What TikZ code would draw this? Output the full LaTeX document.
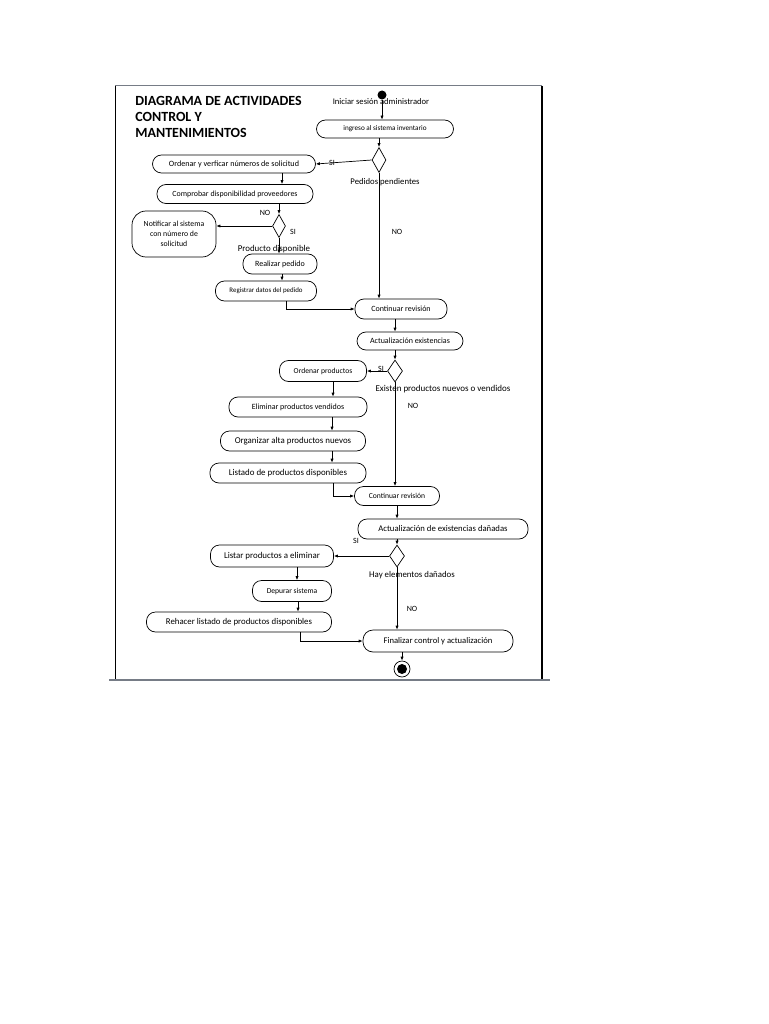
\documentclass[tikz,border=0pt]{standalone}
\usepackage{fontspec}
\setmainfont{Carlito}
\usetikzlibrary{shapes.geometric, arrows.meta}
\definecolor{rulegray}{RGB}{118,124,134}

\begin{document}
\begin{tikzpicture}[
    x=1pt, y=-1pt, line width=0.7pt,
    act/.style={draw,rounded corners=9pt,minimum height=19pt,inner sep=1pt,font=\fontsize{8}{9}\selectfont},
    decision/.style={draw,diamond,minimum width=15pt,minimum height=23pt,inner sep=0pt},
    guard/.style={inner sep=0pt,font=\fontsize{8}{9}\selectfont},
    heading/.style={anchor=base west,inner sep=0pt,font=\fontsize{14}{16}\selectfont\bfseries},
    flow/.style={-{Latex[length=4pt,width=3.2pt]}}
  ]
    \fill[white] (0,0) rectangle (768,1024);
    \useasboundingbox (0,0) rectangle (768,1024);

    % frame
    \draw[line width=1pt] (115,86) -- (115,680);
    \draw[rulegray,line width=1pt] (115,86) -- (542,86);
    \draw[line width=1.2pt] (542,86) -- (542,680);
    \draw[rulegray,line width=2pt] (109,680) -- (550,680);

    \node[heading] (title1) at (135,106) {DIAGRAMA DE ACTIVIDADES};
    \node[heading] (title2) at (135,122) {CONTROL Y};
    \node[heading] (title3) at (135,138) {MANTENIMIENTOS};

    % first block: pedidos
    \node[circle,fill=black,minimum size=9pt,inner sep=0pt] (ini) at (382,95) {};
    \node[guard,font=\fontsize{8.6}{10}\selectfont] (lblini) at (381,102) {Iniciar sesión administrador};
    \node[act,minimum width=137pt,minimum height=18pt,font=\fontsize{7.2}{8}\selectfont] (ingreso) at (385,129) {ingreso al sistema inventario};
    \node[decision,minimum width=14pt,minimum height=25pt] (d1) at (379,160) {};
    \node[guard] (si1) at (332,163) {SI};
    \node[guard,font=\fontsize{8.7}{10}\selectfont] (lblpend) at (385,182) {Pedidos pendientes};
    \node[guard] (no1) at (397,232) {NO};
    \node[act,minimum width=163pt,minimum height=18pt,font=\fontsize{8.1}{9}\selectfont] (ordenar) at (234,164) {Ordenar y verficar números de solicitud};
    \node[act,minimum width=156pt,font=\fontsize{7.9}{9}\selectfont] (comprobar) at (235,194) {Comprobar disponibilidad proveedores};
    \node[decision,minimum width=13pt,minimum height=23pt] (d2) at (279,226) {};
    \node[guard] (no2) at (265,213) {NO};
    \node[guard] (si2) at (293,232) {SI};
    \node[draw,rounded corners=14pt,minimum width=84pt,minimum height=46pt,align=center,inner sep=1pt,font=\fontsize{7.8}{10}\selectfont] (notificar) at (174,234) {Notificar al sistema\\con número de\\solicitud};
    \node[guard,font=\fontsize{8.9}{10}\selectfont] (lblprod) at (274,249) {Producto disponible};
    \node[act,minimum width=74pt,minimum height=20pt] (realizar) at (280,264) {Realizar pedido};
    \node[act,minimum width=101pt,minimum height=20pt,font=\fontsize{6.9}{8}\selectfont] (registrar) at (266,291) {Registrar datos del pedido};
    \node[act,minimum width=92pt,minimum height=20pt] (continuarA) at (401,309) {Continuar revisión};

    \draw[flow] (ini) -- (ini |- ingreso.north);
    \draw[flow] (d1.north |- ingreso.south) -- (d1.north);
    \draw[flow] (d1.west) -- (ordenar.east);
    \draw[flow] ([xshift=48pt]ordenar.south) -- ([xshift=47pt]comprobar.north);
    \draw[flow] (d2.north |- comprobar.south) -- (d2.north);
    \draw[flow] (d2.west) -- (d2.west -| notificar.east);
    \draw[flow] (d2.south) -- (d2.south |- realizar.north);
    \draw[flow] ([xshift=2pt]realizar.south) -- ([xshift=16pt]registrar.north);
    \draw[flow] ([xshift=20pt]registrar.south) |- (continuarA.west);
    \draw[flow] (d1.south) -- (d1.south |- continuarA.north);

    % second block: existencias
    \node[act,minimum width=106pt,minimum height=18pt] (actualizar) at (410,341) {Actualización existencias};
    \node[decision,minimum height=22pt] (d3) at (395,371) {};
    \node[guard] (si3) at (381,369) {SI};
    \node[guard,font=\fontsize{9}{10}\selectfont] (lblexist) at (443,389) {Existen productos nuevos o vendidos};
    \node[guard] (no3) at (413,406) {NO};
    \node[act,minimum width=87pt,minimum height=21pt,font=\fontsize{7.6}{9}\selectfont] (ordprod) at (323,371) {Ordenar productos};
    \node[act,minimum width=138pt,minimum height=20pt] (eliminar) at (298,407) {Eliminar productos vendidos};
    \node[act,minimum width=145pt,minimum height=20pt,font=\fontsize{8.9}{10}\selectfont] (organizar) at (293,441) {Organizar alta productos nuevos};
    \node[act,minimum width=156pt,minimum height=20pt,font=\fontsize{8.9}{10}\selectfont] (listado) at (288,473) {Listado de productos disponibles};
    \node[act,minimum width=85pt,minimum height=19pt,font=\fontsize{7.6}{9}\selectfont] (continuarB) at (397,496) {Continuar revisión};

    \draw[flow] (d3 |- continuarA.south) -- (d3 |- actualizar.north);
    \draw[flow] (d3 |- actualizar.south) -- (d3.north);
    \draw[flow] (d3.west) -- (ordprod.east);
    \draw[flow] ([xshift=10pt]ordprod.south) -- ([xshift=35pt]eliminar.north);
    \draw[flow] ([xshift=34pt]eliminar.south) -- ([xshift=39pt]organizar.north);
    \draw[flow] ([xshift=39pt]organizar.south) -- ([xshift=44pt]listado.north);
    \draw[flow] ([xshift=45pt]listado.south) |- (continuarB.west);
    \draw[flow] (d3.south) -- (d3.south |- continuarB.north);

    % third block: danadas
    \node[act,minimum width=170pt,minimum height=20pt,font=\fontsize{8.7}{10}\selectfont] (danadas) at (443,529) {Actualización de existencias dañadas};
    \node[decision,minimum height=22pt] (d4) at (397,556) {};
    \node[guard] (si4) at (356,541) {SI};
    \node[guard,font=\fontsize{8.8}{10}\selectfont] (lbldan) at (412,575) {Hay elementos dañados};
    \node[guard] (no4) at (412,609) {NO};
    \node[act,minimum width=123pt,minimum height=22pt,font=\fontsize{8.9}{10}\selectfont] (listar) at (272,556) {Listar productos a eliminar};
    \node[act,minimum width=79pt,minimum height=21pt,font=\fontsize{7.6}{9}\selectfont] (depurar) at (292,591) {Depurar sistema};
    \node[act,minimum width=185pt,minimum height=20pt,font=\fontsize{8.8}{10}\selectfont] (rehacer) at (239,622) {Rehacer listado de productos disponibles};
    \node[act,minimum width=150pt,minimum height=22pt,rounded corners=10pt,font=\fontsize{8.6}{10}\selectfont] (finalizar) at (438,641) {Finalizar control y actualización};
    \node[circle,draw,minimum size=16pt,inner sep=0pt] (fin) at (402,669) {};
    \fill (fin) circle (5pt);

    \draw[flow] (d4 |- continuarB.south) -- (d4 |- danadas.north);
    \draw[flow] (d4 |- danadas.south) -- (d4.north);
    \draw[flow] (d4.west) -- (listar.east);
    \draw[flow] ([xshift=25pt]listar.south) -- ([xshift=5pt]depurar.north);
    \draw[flow] ([xshift=6pt]depurar.south) -- ([xshift=59pt]rehacer.north);
    \draw[flow] ([xshift=61pt]rehacer.south) |- (finalizar.west);
    \draw[flow] (d4.south) -- (d4.south |- finalizar.north);
    \draw[flow] (fin |- finalizar.south) -- (fin.north);
\end{tikzpicture}
\end{document}
